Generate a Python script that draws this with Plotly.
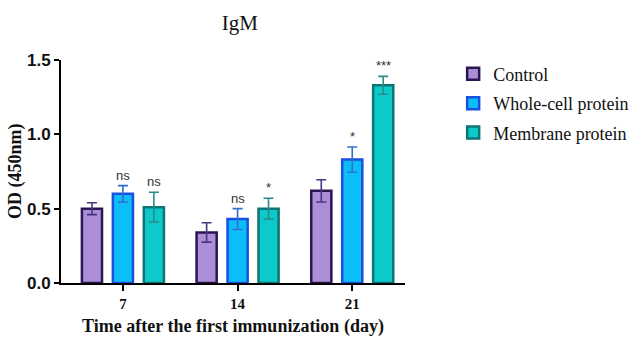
import plotly.graph_objects as go

# IgM antibody OD readings by immunization day
days = ["7", "14", "21"]
groups = ["Control", "Whole-cell protein", "Membrane protein"]
means = {
    "Control": [0.50, 0.34, 0.62],
    "Whole-cell protein": [0.60, 0.43, 0.83],
    "Membrane protein": [0.51, 0.50, 1.33],
}
sds = {
    "Control": [0.04, 0.065, 0.075],
    "Whole-cell protein": [0.055, 0.07, 0.085],
    "Membrane protein": [0.10, 0.07, 0.06],
}
significance = {
    "Control": ["", "", ""],
    "Whole-cell protein": ["ns", "ns", "*"],
    "Membrane protein": ["ns", "*", "***"],
}

fills = {"Control": "#ab8dd8", "Whole-cell protein": "#0cbef8", "Membrane protein": "#0ccaca"}
edges = {"Control": "#2c1652", "Whole-cell protein": "#1a4fe0", "Membrane protein": "#0e7474"}
errcol = {"Control": "#4b3580", "Whole-cell protein": "#2f6fd0", "Membrane protein": "#2a8a8a"}

serif = "Liberation Serif"
sans = "Liberation Sans"

fig = go.Figure()
for g in groups:
    fig.add_trace(go.Bar(
        name=g, x=days, y=means[g], legendgroup=g,
        marker=dict(color=fills[g], line=dict(color=edges[g], width=2.5)),
        error_y=dict(type="data", array=sds[g], visible=True,
                     color=errcol[g], thickness=1.6, width=5),
    ))

# significance marks above each error bar (x given as category index)
offsets = {"Control": -31, "Whole-cell protein": 0, "Membrane protein": 31}
for g in groups:
    for i, (m, s, lab) in enumerate(zip(means[g], sds[g], significance[g])):
        if lab:
            fig.add_annotation(x=i, y=m + s, xref="x", yref="y", text=lab,
                               showarrow=False, yanchor="bottom",
                               xshift=offsets[g], yshift=1,
                               font=dict(family=sans, size=13, color="#333333"))

# y-axis title placed close to the tick labels
fig.add_annotation(x=-0.132, y=0.5, xref="paper", yref="paper", text="OD (450nm)",
                   textangle=-90, showarrow=False, xanchor="center", yanchor="middle",
                   font=dict(family=serif, size=18, color="#111111", weight="bold"))

fig.update_layout(
    width=638, height=347,
    margin=dict(l=61, r=233, t=60, b=64, autoexpand=False),
    paper_bgcolor="white", plot_bgcolor="white",
    font=dict(family=serif, color="#111111"),
    barmode="group", bargap=0.19, bargroupgap=0.35,
    title=dict(text="IgM", x=0.376, xanchor="center", y=0.935, yanchor="middle",
               font=dict(family=serif, size=21, color="#111111")),
    legend=dict(x=1.14, y=1.02, xanchor="left", yanchor="top",
                font=dict(family=serif, size=18, color="#111111"),
                itemwidth=30, tracegroupgap=3, bgcolor="rgba(0,0,0,0)"),
    showlegend=True,
)
fig.update_xaxes(
    range=[-0.54, 2.46], showline=True, linecolor="black", linewidth=2,
    ticks="outside", ticklen=6, tickwidth=2, tickcolor="black",
    showgrid=False, zeroline=False,
    tickfont=dict(family=serif, size=15, color="#111111", weight="bold"),
    title=dict(text="Time after the first immunization (day)", standoff=8,
               font=dict(family=serif, size=18, color="#111111", weight="bold")),
)
fig.update_yaxes(
    range=[0, 1.5], tickvals=[0, 0.5, 1.0, 1.5], ticktext=["0.0", "0.5", "1.0", "1.5"],
    showline=True, linecolor="black", linewidth=2,
    ticks="outside", ticklen=5, tickwidth=2, tickcolor="black",
    showgrid=False, zeroline=False,
    tickfont=dict(family=sans, size=17, color="#111111", weight="bold"),
)

fig.write_html("out.html")
